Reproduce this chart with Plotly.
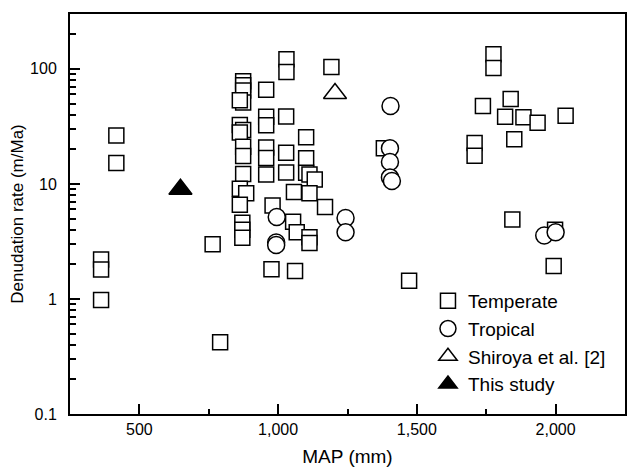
import math
import plotly.graph_objects as go

# ---- data ----
temperate_map = [362, 362, 362, 417, 417, 764, 791,
                 874, 874, 874, 874, 862, 862, 874, 862, 874, 874, 874, 862, 885, 862, 871, 871, 871,
                 957, 957, 957, 957, 957, 957, 980, 976,
                 1030, 1030, 1029, 1029, 1029,
                 1057, 1054, 1067, 1061,
                 1101, 1101, 1101, 1113, 1132, 1113, 1113, 1113,
                 1169, 1192, 1381, 1472,
                 1708, 1708, 1738, 1776, 1776, 1818, 1838, 1851, 1844, 1884, 1935, 1993, 1998, 2036]
temperate_rate = [0.98, 2.2, 1.8, 26.3, 15.2, 2.99, 0.42,
                  78, 72, 65, 51, 53.5, 32.5, 29.5, 28, 21, 17.5, 12.2, 9.1, 8.3, 6.6, 4.6, 4.0, 3.4,
                  65.8, 38.4, 32.3, 20.7, 16.8, 12.1, 6.5, 1.81,
                  121, 94, 38.6, 18.7, 12.6,
                  8.5, 4.7, 3.8, 1.75,
                  25.5, 16.7, 12.5, 12.1, 10.9, 8.3, 3.44, 3.07,
                  6.3, 104, 20.4, 1.44,
                  22.7, 17.6, 47.5, 134, 102, 38.4, 54.7, 24.4, 4.9, 37.9, 34.1, 1.93, 4.0, 39.2]

tropical_map = [995, 993, 993, 1243, 1243, 1405, 1403, 1403, 1403, 1410, 1959, 2000]
tropical_rate = [5.15, 3.1, 2.95, 5.05, 3.8, 47.5, 20.4, 15.5, 11.4, 10.6, 3.56, 3.8]

shiroya_map = [1205]
shiroya_rate = [61]

study_map = [648]
study_rate = [9.0]

x_tickvals = [500, 1000, 1500, 2000]
x_ticktext = ["500", "1,000", "1,500", "2,000"]
x_minor = [750, 1250, 1750]
y_tickvals = [0.1, 1, 10, 100]
y_ticktext = ["0.1", "1", "10", "100"]
y_minor = [m * 10 ** e for e in (-1, 0, 1) for m in range(2, 10)] + [200, 300]

FONT = "Liberation Sans, Arial, Helvetica, sans-serif"
line_style = dict(color="black", width=1.5)

fig = go.Figure()
fig.add_trace(go.Scatter(x=temperate_map, y=temperate_rate, mode="markers", name="Temperate",
                         marker=dict(symbol="square", size=15, color="white", line=line_style)))
fig.add_trace(go.Scatter(x=tropical_map, y=tropical_rate, mode="markers", name="Tropical",
                         marker=dict(symbol="circle", size=17, color="white", line=line_style)))
fig.add_trace(go.Scatter(x=shiroya_map, y=shiroya_rate, mode="markers", name="Shiroya et al. [2]",
                         marker=dict(symbol="triangle-up", size=20, color="white", line=line_style)))
fig.add_trace(go.Scatter(x=study_map, y=study_rate, mode="markers", name="This study",
                         marker=dict(symbol="triangle-up", size=20, color="black", line=line_style)))

fig.update_layout(
    width=629, height=467,
    margin=dict(l=70, r=2, t=14, b=52),
    plot_bgcolor="white", paper_bgcolor="white",
    font=dict(family=FONT, size=16, color="black"),
    showlegend=True,
    legend=dict(x=0.645, y=0.33, xanchor="left", yanchor="top",
                bgcolor="rgba(0,0,0,0)", font=dict(size=19)),
)
fig.update_xaxes(
    range=[250, 2250], tickvals=x_tickvals, ticktext=x_ticktext,
    ticks="inside", ticklen=10, tickwidth=1.5, tickcolor="black",
    showline=True, linewidth=2, linecolor="black", mirror=True,
    showgrid=False, zeroline=False,
    minor=dict(tickvals=x_minor, ticks="inside", ticklen=5, tickwidth=1.5, tickcolor="black", showgrid=False),
    title=dict(text="MAP (mm)", font=dict(size=19), standoff=13),
)
fig.update_yaxes(
    type="log", range=[-1, math.log10(300)], tickvals=y_tickvals, ticktext=y_ticktext,
    ticks="inside", ticklen=10, tickwidth=1.5, tickcolor="black",
    showline=True, linewidth=2, linecolor="black", mirror=True,
    showgrid=False, zeroline=False, ticklabelstandoff=8,
    minor=dict(tickvals=y_minor, ticks="inside", ticklen=6, tickwidth=1.5, tickcolor="black", showgrid=False),
    title=dict(text="Denudation rate (m/Ma)", font=dict(size=17), standoff=2),
)

fig.write_html("out.html", config={"displayModeBar": False},
               post_script="document.body.style.margin='0';document.body.style.overflow='hidden';")
